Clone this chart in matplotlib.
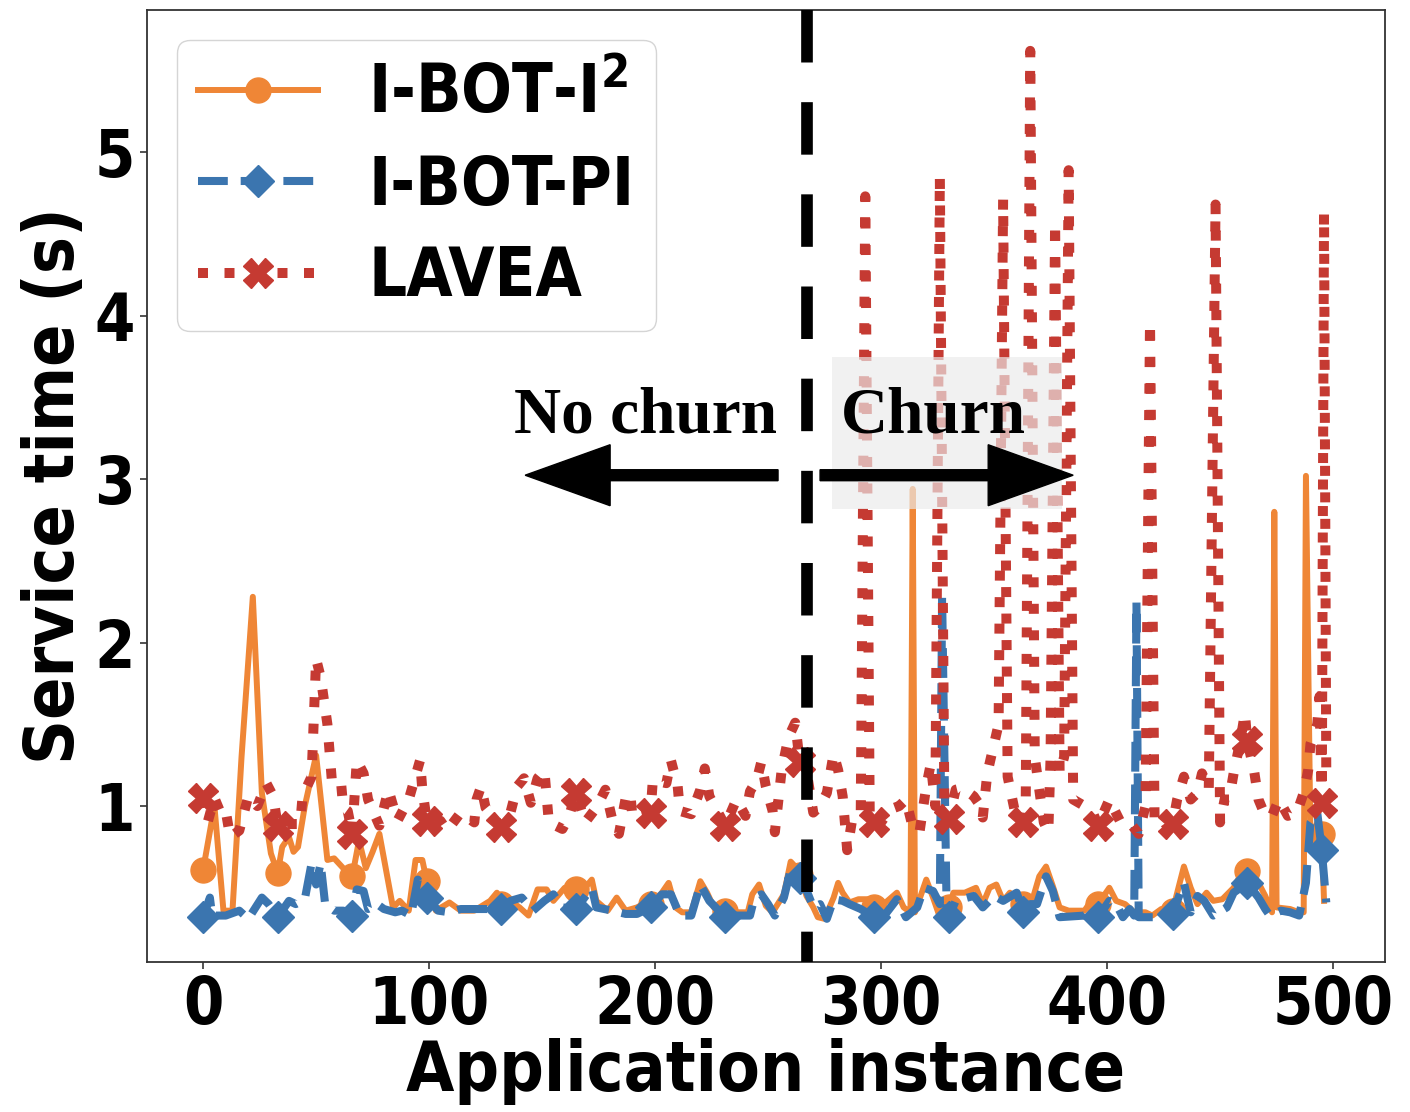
import matplotlib
matplotlib.use('Agg')
import matplotlib.pyplot as plt
from matplotlib.patches import Rectangle

# I-BOT-I^2 (orange): instance index -> service time (s)
i2_x = [0, 5, 9, 13, 17, 22, 26, 30, 33, 35, 38, 40, 42, 45, 50, 55, 58, 62, 66, 69,
        72, 75, 78, 84, 87, 91, 94, 97, 99, 103, 109, 114, 120, 127, 130, 132, 136, 140,
        144, 148, 152, 155, 160, 165, 169, 172, 174, 179, 183, 187, 192, 196, 198, 202,
        206, 209, 212, 216, 220, 223, 226, 231, 236, 241, 243, 246, 249, 252, 257, 260,
        262, 264, 267, 270, 272, 275, 279, 281, 283, 286, 290, 294, 297, 302, 307, 310,
        313, 314, 315, 320, 323, 326, 330, 332, 337, 342, 345, 348, 351, 354, 357, 363,
        366, 370, 373, 376, 379, 383, 390, 394, 396, 401, 404, 408, 412, 417, 420, 424,
        429, 434, 437, 440, 444, 447, 451, 456, 460, 462, 467, 470, 473, 474, 475, 481,
        485, 487, 488, 490, 493, 495, 496]
i2_y = [0.61, 1.0, 0.36, 0.36, 1.3, 2.28, 1.08, 0.71, 0.59, 0.75, 0.81, 0.72, 0.75, 1.0,
        1.31, 0.67, 0.68, 0.62, 0.57, 0.79, 0.62, 0.72, 0.83, 0.38, 0.42, 0.36, 0.67, 0.67,
        0.54, 0.36, 0.41, 0.36, 0.36, 0.42, 0.47, 0.4, 0.42, 0.38, 0.33, 0.49, 0.49, 0.42,
        0.5, 0.49, 0.5, 0.55, 0.42, 0.36, 0.44, 0.36, 0.38, 0.41, 0.4, 0.45, 0.53, 0.38,
        0.35, 0.35, 0.54, 0.47, 0.38, 0.36, 0.35, 0.35, 0.46, 0.52, 0.39, 0.35, 0.46, 0.66,
        0.63, 0.58, 0.45, 0.38, 0.32, 0.31, 0.44, 0.53, 0.47, 0.41, 0.43, 0.43, 0.38, 0.41,
        0.47, 0.38, 0.35, 2.94, 0.35, 0.55, 0.44, 0.32, 0.38, 0.47, 0.47, 0.5, 0.4, 0.5,
        0.52, 0.42, 0.47, 0.4, 0.38, 0.57, 0.63, 0.51, 0.38, 0.36, 0.36, 0.44, 0.4, 0.5,
        0.42, 0.4, 0.35, 0.35, 0.33, 0.37, 0.36, 0.63, 0.5, 0.4, 0.47, 0.42, 0.43, 0.5, 0.6,
        0.6, 0.53, 0.45, 0.35, 2.8, 0.38, 0.37, 0.35, 0.35, 3.02, 0.79, 0.9, 0.83, 0.42]

# I-BOT-PI (blue)
pi_x = [0, 3, 4, 10, 16, 20, 26, 29, 33, 38, 41, 45, 48, 50, 52, 54, 58, 62, 66, 68, 71,
        73, 77, 80, 85, 88, 92, 95, 99, 104, 109, 114, 125, 132, 136, 141, 146, 151, 155,
        159, 165, 172, 174, 181, 187, 192, 198, 203, 207, 211, 216, 220, 224, 231, 236,
        242, 244, 247, 250, 253, 257, 260, 264, 266, 270, 273, 276, 279, 283, 286, 291,
        297, 302, 307, 311, 316, 319, 323, 326, 327, 329, 330, 333, 341, 345, 350, 354,
        360, 363, 366, 369, 373, 376, 379, 390, 394, 396, 401, 404, 407, 410, 412, 413,
        414, 421, 425, 429, 434, 437, 440, 443, 447, 453, 456, 462, 467, 470, 472, 477,
        481, 485, 488, 490, 493, 495, 497]
pi_y = [0.32, 0.44, 0.33, 0.33, 0.36, 0.31, 0.44, 0.4, 0.32, 0.42, 0.4, 0.43, 0.65, 0.52,
        0.65, 0.4, 0.36, 0.36, 0.33, 0.49, 0.48, 0.37, 0.4, 0.37, 0.35, 0.36, 0.33, 0.55,
        0.44, 0.36, 0.35, 0.37, 0.37, 0.37, 0.42, 0.44, 0.36, 0.42, 0.46, 0.38, 0.37, 0.5,
        0.38, 0.36, 0.34, 0.34, 0.38, 0.46, 0.46, 0.33, 0.33, 0.52, 0.42, 0.32, 0.33, 0.33,
        0.44, 0.46, 0.4, 0.33, 0.44, 0.61, 0.56, 0.52, 0.38, 0.4, 0.31, 0.43, 0.42, 0.4,
        0.37, 0.32, 0.34, 0.43, 0.32, 0.38, 0.5, 0.48, 0.4, 2.29, 0.36, 0.32, 0.42, 0.45,
        0.38, 0.45, 0.42, 0.47, 0.35, 0.4, 0.4, 0.57, 0.48, 0.32, 0.33, 0.38, 0.32, 0.42,
        0.4, 0.32, 0.37, 0.33, 2.25, 0.32, 0.32, 0.35, 0.34, 0.53, 0.35, 0.45, 0.42, 0.33,
        0.38, 0.47, 0.53, 0.44, 0.37, 0.33, 0.36, 0.35, 0.33, 0.53, 0.9, 0.96, 0.73, 0.41]

# LAVEA (red)
lv_x = [0, 2, 5, 8, 10, 12, 16, 20, 24, 28, 31, 33, 38, 43, 44, 48, 50, 52, 55, 57, 61,
        62, 64, 66, 68, 71, 73, 78, 82, 86, 91, 96, 97, 99, 105, 108, 114, 120, 121, 123,
        125, 132, 136, 139, 142, 145, 148, 151, 152, 153, 159, 162, 165, 169, 174, 178,
        181, 184, 187, 189, 190, 198, 199, 205, 207, 210, 211, 216, 220, 222, 224, 231,
        236, 240, 242, 245, 247, 249, 252, 253, 256, 259, 262, 264, 266, 270, 273, 276,
        279, 281, 283, 285, 287, 291, 293, 295, 297, 300, 304, 308, 311, 314, 317, 320,
        322, 324, 326, 328, 330, 333, 336, 341, 344, 345, 347, 350, 352, 354, 356, 359,
        363, 364, 366, 368, 370, 372, 374, 375, 377, 379, 381, 383, 385, 390, 394, 396,
        401, 406, 410, 414, 417, 419, 421, 425, 429, 431, 434, 437, 440, 442, 445, 448,
        450, 452, 454, 456, 459, 461, 462, 465, 467, 470, 473, 476, 480, 484, 487, 489,
        490, 493, 494, 495, 496, 497]
lv_y = [1.05, 0.9, 1.05, 0.95, 0.97, 0.81, 0.85, 1.06, 1.0, 1.14, 1.06, 0.88, 0.89, 0.89,
        1.06, 1.18, 1.9, 1.79, 1.5, 1.15, 1.15, 0.99, 0.97, 0.83, 1.28, 1.2, 1.04, 0.88,
        1.1, 0.91, 1.04, 1.28, 1.1, 0.91, 0.91, 0.85, 0.96, 0.9, 1.04, 1.12, 0.99, 0.87,
        0.96, 1.12, 1.17, 1.02, 1.17, 1.22, 1.06, 0.9, 0.86, 0.94, 1.08, 0.9, 0.99, 1.1,
        0.92, 0.83, 1.05, 1.08, 0.93, 0.96, 1.16, 1.14, 1.28, 1.12, 0.97, 0.95, 1.1, 1.23,
        1.06, 0.88, 1.04, 0.94, 1.09, 1.16, 1.27, 1.12, 0.97, 0.84, 1.22, 1.42, 1.51, 1.27,
        1.3, 0.96, 1.0, 1.08, 1.32, 1.22, 1.06, 0.73, 0.9, 0.95, 4.73, 0.9, 0.9, 0.9, 0.98,
        1.0, 1.04, 0.87, 0.84, 1.12, 1.26, 1.0, 4.85, 1.0, 0.92, 1.1, 1.11, 1.06, 1.0, 0.93,
        1.2, 1.38, 1.5, 4.71, 1.18, 0.98, 0.9, 1.0, 5.62, 1.3, 1.1, 0.9, 0.84, 1.3, 4.57,
        1.2, 1.3, 4.89, 1.04, 1.0, 0.95, 0.88, 1.04, 0.9, 0.9, 0.83, 1.0, 3.96, 0.93, 0.85,
        0.89, 1.04, 1.18, 1.04, 1.08, 1.2, 1.1, 4.68, 0.9, 1.04, 1.04, 1.2, 1.4, 1.57, 1.4,
        1.22, 1.04, 0.94, 0.94, 1.04, 0.94, 0.96, 1.08, 1.22, 1.38, 1.5, 1.67, 1.02, 4.63,
        1.2]

labels = [r'I-BOT-I$^2$', 'I-BOT-PI', 'LAVEA']
colors = ['#ef8636', '#3b75af', '#c53a32']
churn_start = 267
mark_step = 33

plt.rcParams['font.family'] = 'DejaVu Sans'
plt.rcParams['font.stretch'] = 'condensed'
plt.rcParams['font.weight'] = 'bold'
plt.rcParams['mathtext.default'] = 'regular'

fig = plt.figure(figsize=(14.1, 11.12), dpi=100)
ax = fig.add_axes([0.1043, 0.1349, 0.878, 0.8561])


def marks(xs):
    return [i for i, v in enumerate(xs) if v % mark_step == 0]


ax.plot(i2_x, i2_y, color=colors[0], lw=4.3, ls='-', marker='o', ms=18,
        markevery=marks(i2_x), label=labels[0], zorder=2)
ax.plot(pi_x, pi_y, color=colors[1], lw=5.8, ls='--', marker='D', ms=16,
        markevery=marks(pi_x), label=labels[1], zorder=2.1)
ax.plot(lv_x, lv_y, color=colors[2], lw=7.2, ls=':', marker='X', ms=21,
        markevery=marks(lv_x), label=labels[2], zorder=2.2)

# churn boundary, drawn from the top so the dash pattern starts there
ax.plot([churn_start, churn_start], [1, 0], transform=ax.get_xaxis_transform(),
        color='black', lw=8.4, dashes=(4.5, 3.4), zorder=4)

ax.add_patch(Rectangle((278.3, 2.82), 101.7, 0.93, facecolor='#ebebeb',
                       edgecolor='none', alpha=0.67, zorder=3))
ax.arrow(254.4, 3.024, -111.9, 0, width=0.067, head_width=0.373, head_length=37.6,
         length_includes_head=True, color='black', zorder=5)
ax.arrow(273.0, 3.024, 112.0, 0, width=0.067, head_width=0.373, head_length=37.6,
         length_includes_head=True, color='black', zorder=5)
ax.text(195.6, 3.287, 'No churn', family='Liberation Serif', fontweight='bold',
        fontsize=47, ha='center', va='baseline', zorder=6)
ax.text(323.2, 3.287, 'Churn', family='Liberation Serif', fontweight='bold',
        fontsize=47, ha='center', va='baseline', zorder=6)

ax.set_xlim(-24.8, 523)
ax.set_ylim(0.046, 5.87)
ax.set_xticks([0, 100, 200, 300, 400, 500])
ax.set_yticks([1, 2, 3, 4, 5])
ax.tick_params(labelsize=46.5, length=5, width=1.3, pad=4, color='#444444')
for s in ax.spines.values():
    s.set_linewidth(1.3)
    s.set_color('#333333')

ax.set_xlabel('Application instance', fontsize=50, fontweight='bold', labelpad=0)
ax.set_ylabel('Service time (s)', fontsize=50, fontweight='bold', labelpad=4)

leg = ax.legend(loc='upper left', handlelength=1.8, handletextpad=0.75,
                labelspacing=0.38, borderpad=0.32, borderaxespad=0.45, framealpha=1.0,
                edgecolor='#d5d5d5',
                prop={'weight': 'bold', 'size': 48, 'stretch': 'condensed'})

fig.savefig('out.png', dpi=100)
